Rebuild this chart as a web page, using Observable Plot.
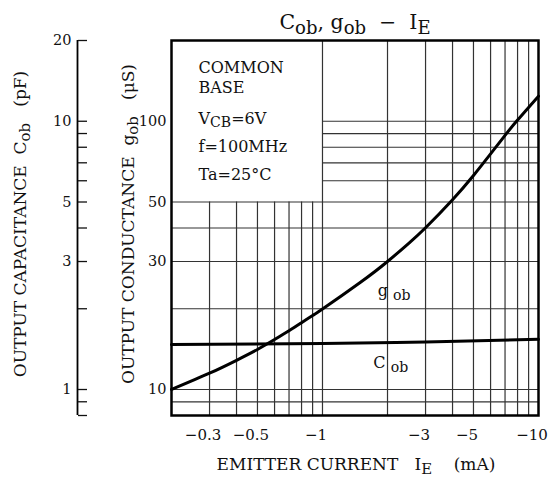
<!DOCTYPE html>
<html><head><meta charset="utf-8">
<script src="https://cdn.jsdelivr.net/npm/d3@7"></script>
<script src="https://cdn.jsdelivr.net/npm/@observablehq/plot@0.6"></script>
<style>
html,body{margin:0;padding:0;background:#fff;}
#chart svg{display:block;}
</style></head><body><div id="chart"></div>
<script>
// ---- data ----
const emitterCurrentGob = [0.2, 0.3, 0.4, 0.5, 0.6, 0.7, 0.8, 0.9, 1, 1.5, 2, 2.5, 3, 4, 5, 6, 7, 8, 10]; // |IE| mA
const gobValues        = [10.0, 11.5, 12.85, 14.1, 15.35, 16.55, 17.75, 18.88, 19.95, 25.1, 30, 35.0, 40.1, 51, 62.8, 75.6, 88.6, 101, 124]; // µS
const emitterCurrentCob = [0.2, 1, 3, 10];
const cobValues         = [1.47, 1.485, 1.505, 1.54]; // pF
const xTickLabels   = [0.3, 0.5, 1, 3, 5, 10];
const gobTickLabels = [10, 30, 50, 100];
const cobTickLabels = [1, 3, 5, 10, 20];
const cobTicks      = [0.8, 0.9, 1, 2, 3, 4, 5, 6, 7, 8, 9, 10, 20];
const xGridLow  = [0.3, 0.4, 0.5, 0.6, 0.7, 0.8, 0.9];
const xGridHigh = [1, 2, 3, 4, 5, 6, 7, 8, 9];
const yGridLow  = [9, 10, 20, 30, 40, 50];
const yGridHigh = [60, 70, 80, 90, 100];
const conditions = ["COMMON", "BASE", "V{CB}=6V", "f=100MHz", "Ta=25°C"];

const xDomain = [0.2, 10];
const yDomain = [8, 200];   // gob µS ; Cob pF = gob / 10
const boxX = 1, boxY = 50;  // the conditions box corner

const gobData = emitterCurrentGob.map((ie, i) => ({ie, v: gobValues[i]}));
const cobData = emitterCurrentCob.map((ie, i) => ({ie, v: cobValues[i] * 10}));

const FONT = "'DejaVu Serif', serif";
const NB = "\u00a0";
const gridStyle = {stroke: "#333", strokeWidth: 1.2};
const condDy = [32, 52, 83, 111, 139];

const chart = Plot.plot({
  width: 550, height: 477,
  marginTop: 40, marginRight: 12, marginBottom: 62, marginLeft: 171,
  style: {fontFamily: FONT, fontSize: "15px", color: "#111", background: "#fff"},
  x: {type: "log", domain: xDomain, axis: null},
  y: {type: "log", domain: yDomain, axis: null},
  marks: [
    Plot.ruleX(xGridLow, {y1: yDomain[0], y2: boxY, ...gridStyle}),
    Plot.ruleX(xGridHigh, {y1: yDomain[0], y2: yDomain[1], ...gridStyle}),
    Plot.ruleY(yGridLow, {x1: xDomain[0], x2: xDomain[1], ...gridStyle}),
    Plot.ruleY(yGridHigh, {x1: boxX, x2: xDomain[1], ...gridStyle}),
    Plot.frame({stroke: "#000", strokeWidth: 2.5}),
    Plot.line(gobData, {x: "ie", y: "v", curve: "natural", stroke: "#000", strokeWidth: 3}),
    Plot.line(cobData, {x: "ie", y: "v", curve: "natural", stroke: "#000", strokeWidth: 3}),
    // x axis labels
    Plot.text(xTickLabels, {x: d => d, frameAnchor: "bottom", dy: 20, dx: -6.5,
      text: d => "−" + d, fontSize: 15, textAnchor: "middle", lineAnchor: "middle"}),
    // gob axis labels
    Plot.axisY(gobTickLabels, {anchor: "left", tickSize: 0, tickPadding: 5, fontSize: 14.5,
      tickFormat: d => String(d), label: null}),
    // Cob axis: line, ticks, labels
    Plot.ruleX([xDomain[0]], {y1: cobTicks[0] * 10, y2: cobTicks[cobTicks.length - 1] * 10, dx: -94, stroke: "#000", strokeWidth: 1.8}),
    Plot.axisY(cobTicks.map(d => d * 10), {anchor: "right", tickSize: 9, dx: -461, strokeWidth: 1.3,
      tickFormat: () => "", label: null}),
    Plot.axisY(cobTickLabels.map(d => d * 10), {anchor: "left", tickSize: 0, tickPadding: 0, dx: -100, fontSize: 14.5,
      tickFormat: d => String(Math.round(d) / 10), label: null}),
    // axis titles
    Plot.text([`OUTPUT CAPACITANCE${NB}${NB}C{ob}${NB}${NB}${NB}(pF)`], {frameAnchor: "left", rotate: -90, dx: -151, dy: -4,
      fontSize: 17, textAnchor: "middle", lineAnchor: "middle"}),
    Plot.text([`OUTPUT CONDUCTANCE${NB}${NB}g{ob}${NB}${NB}${NB}(μS)`], {frameAnchor: "left", rotate: -90, dx: -43, dy: -4,
      fontSize: 17, textAnchor: "middle", lineAnchor: "middle"}),
    Plot.text([`EMITTER CURRENT${NB}${NB}${NB}I{E}${NB}${NB}${NB}${NB}(mA)`], {frameAnchor: "bottom", dy: 54, dx: 1,
      fontSize: 17, textAnchor: "middle", lineAnchor: "bottom"}),
    // title
    Plot.text([`C{ob},${NB}g{ob}${NB}${NB}−${NB}${NB}I{E}`], {frameAnchor: "top", dy: -12,
      fontSize: 20.5, textAnchor: "middle", lineAnchor: "bottom"}),
    // conditions
    ...conditions.map((c, i) => Plot.text([c], {frameAnchor: "top-left", dx: 27, dy: condDy[i],
      fontSize: 16, textAnchor: "start", lineAnchor: "bottom"})),
    // curve labels
    Plot.text([{ie: 1.8, v: 22.4, t: `g${NB}{ob}`}], {x: "ie", y: "v", text: "t", fontSize: 16, textAnchor: "start", lineAnchor: "bottom"}),
    Plot.text([{ie: 1.72, v: 12.0, t: `C${NB}{ob}`}], {x: "ie", y: "v", text: "t", fontSize: 16, textAnchor: "start", lineAnchor: "bottom"})
  ]
});

// subscripts: {xx} -> lowered tspan
function applySubscripts(svg) {
  svg.querySelectorAll("text").forEach(t => {
    if (t.querySelector("tspan")) return;
    const s = t.textContent;
    if (!s.includes("{")) return;
    const parts = s.split(/(\{[^}]*\})/);
    while (t.firstChild) t.removeChild(t.firstChild);
    let shifted = false;
    for (const p of parts) {
      if (!p) continue;
      const ts = document.createElementNS("http://www.w3.org/2000/svg", "tspan");
      if (p.startsWith("{")) {
        ts.textContent = p.slice(1, -1);
        ts.setAttribute("font-size", "0.88em");
        ts.setAttribute("dy", "0.28em");
        shifted = true;
      } else {
        ts.textContent = p;
        if (shifted) { ts.setAttribute("dy", "-0.246em"); shifted = false; }
      }
      t.appendChild(ts);
    }
  });
}
applySubscripts(chart);
document.getElementById("chart").appendChild(chart);
</script>
</body></html>
